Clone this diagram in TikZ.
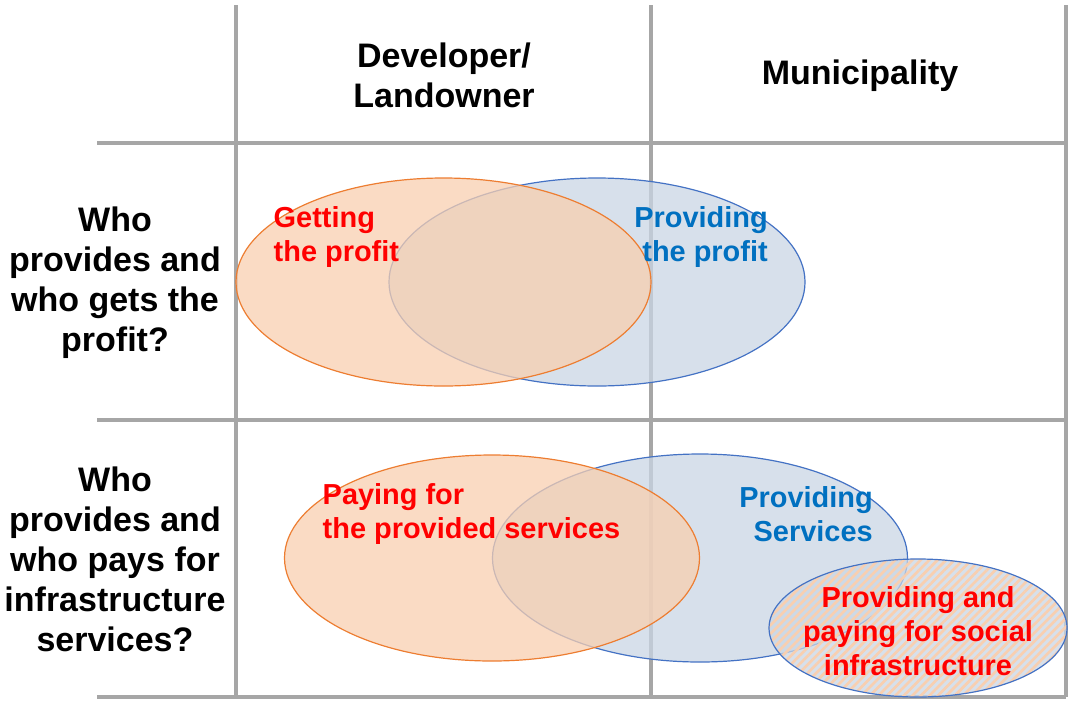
\documentclass[tikz,border=0pt]{standalone}
\usepackage{fontspec}
\setmainfont{Liberation Sans}
\usepackage{tikz}
\usepackage{xcolor}
\usetikzlibrary{patterns.meta}

\definecolor{gridgray}{HTML}{A6A6A6}
\definecolor{orangefill}{HTML}{F8CFB0}
\definecolor{orangeline}{HTML}{ED7D31}
\definecolor{bluefill}{HTML}{CAD6E4}
\definecolor{blueline}{HTML}{4472C4}
\definecolor{bluetext}{HTML}{0070C0}
\definecolor{redtext}{HTML}{FF0000}

\begin{document}
\begin{tikzpicture}[x=0.75pt,y=-0.75pt,
  head/.style={font=\bfseries\fontsize{25.5}{30}\selectfont, align=center},
  lab/.style={font=\bfseries\fontsize{21.7}{25.5}\selectfont},
  gridline/.style={gridgray, line width=2.3pt},
  blueblob/.style={fill=bluefill, draw=blueline, fill opacity=0.75, line width=0.9pt},
  orangeblob/.style={fill=orangefill, draw=orangeline, fill opacity=0.75, line width=0.9pt}]
\useasboundingbox (0,0) rectangle (1069,700);

% table
\draw[gridline] (236,5) -- (236,697);
\draw[gridline] (651,5) -- (651,697);
\draw[gridline] (1066,5) -- (1066,697);
\draw[gridline] (97,143) -- (1066,143);
\draw[gridline] (97,420) -- (1066,420);
\draw[gridline] (97,697) -- (1066,697);

\node[head] (dev) at (444,75) {Developer/\\Landowner};
\node[head] (mun) at (860,76) {Municipality};
\node[head] (profitq) at (115,283) {Who\\provides and\\who gets the\\profit?};
\node[head] (infraq) at (115,559) {Who\\provides and\\who pays for\\infrastructure\\services?};

% profit row
\filldraw[blueblob] (597,282) ellipse [x radius=208, y radius=104];
\filldraw[orangeblob] (443.5,282) ellipse [x radius=207.5, y radius=104];

% services row
\filldraw[blueblob] (700,558) ellipse [x radius=207.5, y radius=104];
\filldraw[orangeblob] (492,558) ellipse [x radius=207.5, y radius=103];
\fill[bluefill, fill opacity=0.75] (918,628) ellipse [x radius=149, y radius=69];
\fill[pattern={Lines[angle=45, distance=4.5pt, line width=2pt]}, pattern color=orangefill, fill opacity=0.8] (918,628) ellipse [x radius=149, y radius=69];
\draw[blueline, line width=0.9pt] (918,628) ellipse [x radius=149, y radius=69];

\node[lab, text=redtext, align=left, anchor=west] (getting) at (269,237) {Getting\\the profit};
\node[lab, text=bluetext, align=right] (giving) at (701,237) {Providing\\the profit};
\node[lab, text=redtext, align=left, anchor=west] (paying) at (318,514) {Paying for\\the provided services};
\node[lab, text=bluetext, align=right] (serving) at (806,514) {Providing\\Services};
\node[lab, text=redtext, align=center] (social) at (918,631) {Providing and\\paying for social\\infrastructure};
\end{tikzpicture}
\end{document}
